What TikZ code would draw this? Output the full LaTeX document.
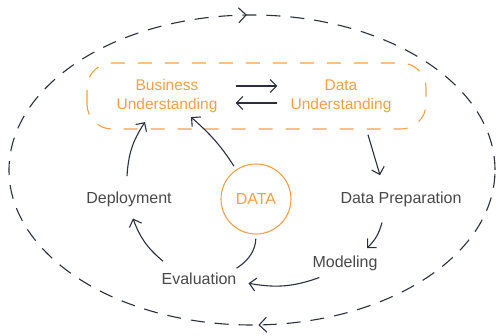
\documentclass[tikz,border=0pt]{standalone}
\usepackage{fontspec}
\setmainfont{Liberation Sans}
\usetikzlibrary{arrows.meta}
\usetikzlibrary{decorations.markings}
\definecolor{crisporange}{RGB}{244,160,70}
\definecolor{crispline}{RGB}{42,47,60}
\definecolor{crisptext}{RGB}{72,72,72}

\begin{document}
\begin{tikzpicture}[x=1pt,y=1pt,
  >={Straight Barb[length=6.5pt,width=13pt]},
  stage/.style={text=crisptext, inner sep=2pt, font=\fontsize{16}{19}\selectfont},
  phase/.style={text=crisporange, inner sep=2pt, align=center, font=\fontsize{15.5}{19.3}\selectfont},
  flow/.style={crispline, line width=1.1pt}]
\useasboundingbox (0,0) rectangle (496,336);

% outer cycle
\begin{scope}[decoration={
    markings,
    mark=at position 0.261 with {\arrow{Straight Barb[length=7.5pt,width=15pt,reversed]}},
    mark=at position 0.762 with {\arrow{Straight Barb[length=7.5pt,width=15pt,reversed]}}}
    ]
    \draw[postaction={decorate}, crispline, line width=1.1pt, dash pattern=on 14pt off 10pt] (252,166) ellipse [x radius=243, y radius=155];
\end{scope}

% understanding box
\draw[crisporange, line width=1.1pt, dash pattern=on 14pt off 13pt, rounded corners=25pt] (87,207) rectangle (426,273);

\node (bu) at (167,240) [phase]{Business\\Understanding};
\node (du) at (341,240) [phase]{Data\\Understanding};

\node (data) at (256,137) [circle, draw=crisporange, line width=1.1pt, minimum size=70pt, inner sep=0pt, text=crisporange, font=\fontsize{16}{19}\selectfont]{DATA};

\node (dep) at (129,132) [stage, anchor=base]{Deployment};
\node (dp) at (401,132) [stage, anchor=base]{Data Preparation};
\node (mod) at (345,68) [stage, anchor=base]{Modeling};
\node (eva) at (199,51) [stage, anchor=base]{Evaluation};

% business <-> data
\draw[flow, ->] ([xshift=16pt,yshift=10pt]bu.east) -- ([xshift=-11pt,yshift=10pt]du.west);
\draw[flow, ->] ([xshift=-11pt,yshift=-7pt]du.west) -- ([xshift=16pt,yshift=-7pt]bu.east);

% main cycle
\draw[flow, ->] ([xshift=27pt,yshift=-20pt]du.south) -- ([xshift=-21pt,yshift=15pt]dp.north);
\draw[flow, ->] ([xshift=-19pt,yshift=-13pt]dp.south) to[bend left=15] ([xshift=22pt,yshift=6pt]mod.north);
\draw[flow, ->] ([xshift=9pt,yshift=-4pt]mod.south west) to[out=200,in=-10] ([xshift=10pt,yshift=-4pt]eva.east);
\draw[flow, ->] ([xshift=-36pt,yshift=10pt]eva.north) to[bend left=15] ([xshift=4pt,yshift=-9pt]dep.south);
\draw[flow, ->] ([xshift=-2pt,yshift=14pt]dep.north) to[bend left=15] ([xshift=-22pt,yshift=-7pt]bu.south);

% data links
\draw[flow, ->, shorten <=4pt] (data.124) to[bend right=8] ([xshift=24pt,yshift=-2pt]bu.south);
\draw[flow, shorten <=4pt] (data.south) to[bend left=28] ([xshift=-2pt,yshift=3pt]eva.north east);

\end{tikzpicture}
\end{document}
